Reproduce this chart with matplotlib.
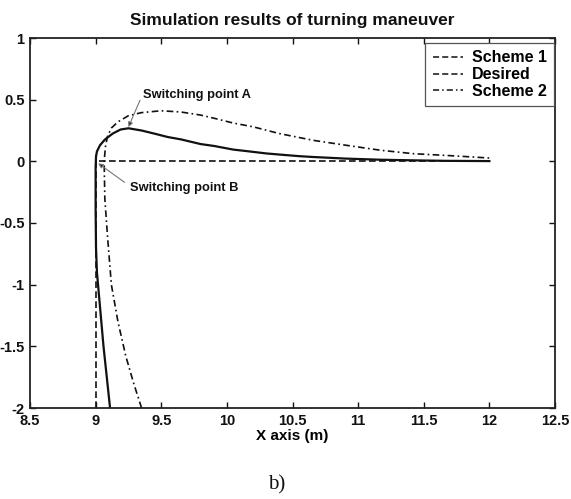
import matplotlib
matplotlib.use("Agg")
import matplotlib.pyplot as plt
from matplotlib.lines import Line2D

# trajectories (x in m, y in m)
scheme1_x = [9.11, 9.085, 9.06, 9.035, 9.01, 9.003, 9.0, 9.0, 9.003, 9.01, 9.033, 9.07,
             9.13, 9.19, 9.25, 9.35, 9.45, 9.55, 9.65, 9.8, 9.9, 10.05, 10.15, 10.3,
             10.4, 10.55, 10.66, 10.91, 11.17, 11.42, 11.67, 12.0]
scheme1_y = [-2.0, -1.75, -1.5, -1.2, -0.9, -0.7, -0.4, -0.05, 0.04, 0.08, 0.13, 0.176,
             0.225, 0.258, 0.268, 0.25, 0.224, 0.197, 0.178, 0.14, 0.125, 0.095, 0.083,
             0.064, 0.055, 0.042, 0.035, 0.022, 0.013, 0.008, 0.004, 0.002]

desired_x = [9.0, 9.0, 12.0]
desired_y = [-2.0, 0.0, 0.0]

scheme2_x = [9.35, 9.29, 9.23, 9.17, 9.12, 9.09, 9.07, 9.065, 9.075, 9.09, 9.12, 9.17,
             9.25, 9.35, 9.5, 9.65, 9.8, 9.9, 10.05, 10.2, 10.4, 10.66, 10.91, 11.17,
             11.42, 11.67, 12.0]
scheme2_y = [-2.0, -1.8, -1.58, -1.3, -1.0, -0.6, -0.3, 0.0, 0.12, 0.2, 0.27, 0.32,
             0.37, 0.395, 0.41, 0.4, 0.375, 0.35, 0.31, 0.28, 0.225, 0.17, 0.13, 0.09,
             0.062, 0.048, 0.027]

labels = ["Scheme 1", "Desired", "Scheme 2"]
xticks = [8.5, 9, 9.5, 10, 10.5, 11, 11.5, 12, 12.5]
yticks = [-2, -1.5, -1, -0.5, 0, 0.5, 1]
tick_text_x = ["8.5", "9", "9.5", "10", "10.5", "11", "11.5", "12", "12.5"]
tick_text_y = ["-2", "-1.5", "-1", "-0.5", "0", "0.5", "1"]

plt.rcParams["font.family"] = ["Liberation Sans", "DejaVu Sans"]
plt.rcParams["font.weight"] = "bold"
plt.rcParams["axes.labelweight"] = "bold"

W, H = 571, 499
fig = plt.figure(figsize=(W / 100, H / 100), dpi=100)
ax = fig.add_axes([30 / W, 1 - 408 / H, 525 / W, 370 / H])

ink = "#111111"
dash = (0, (4, 2))
dashdot = (0, (4, 2, 1, 2))

ax.plot(scheme1_x, scheme1_y, color=ink, lw=1.6, solid_joinstyle="round")
ax.plot(desired_x, desired_y, color=ink, lw=1.2, linestyle=dash)
ax.plot(scheme2_x, scheme2_y, color=ink, lw=1.2, linestyle=dashdot)

ax.set_xlim(8.5, 12.5)
ax.set_ylim(-2, 1)
ax.set_xticks(xticks)
ax.set_xticklabels(tick_text_x)
ax.set_yticks(yticks)
ax.set_yticklabels(tick_text_y)
ax.tick_params(direction="in", length=4, width=1, top=True, right=True,
               labelsize=10.5, pad=4, colors=ink)
for s in ax.spines.values():
    s.set_linewidth(1.3)
    s.set_color("#222222")

ax.set_xlabel("X axis (m)", fontsize=11, labelpad=1)

# legend shows both of the first two entries dashed, as in the source figure
handles = [Line2D([], [], color=ink, lw=1.1, linestyle=dash),
           Line2D([], [], color=ink, lw=1.1, linestyle=dash),
           Line2D([], [], color=ink, lw=1.1, linestyle=dashdot)]
leg = ax.legend(handles, labels, loc="upper right", bbox_to_anchor=(0.998, 1 - 5 / 370),
                borderaxespad=0, fancybox=False, framealpha=1, edgecolor="#555555",
                fontsize=11.5, handlelength=1.9, handletextpad=0.55, labelspacing=0.12,
                borderpad=0.45)
leg.get_frame().set_linewidth(0.9)

# switching point annotations
ax.annotate("", xy=(9.25, 0.278), xytext=(9.338, 0.495),
            arrowprops=dict(arrowstyle="-|>", color="#777777", lw=0.8,
                            mutation_scale=7, fc=ink, ec="#777777", shrinkA=0, shrinkB=0))
ax.text(9.363, 0.535, "Switching point A", fontsize=9.3, va="center", ha="left", color=ink)
ax.annotate("", xy=(9.02, -0.016), xytext=(9.22, -0.17),
            arrowprops=dict(arrowstyle="-|>", color="#777777", lw=0.8,
                            mutation_scale=7, fc=ink, ec="#777777", shrinkA=0, shrinkB=0))
ax.text(9.262, -0.219, "Switching point B", fontsize=9.3, va="center", ha="left", color=ink)

fig.text(292.5 / W, 1 - 20.7 / H, "Simulation results of turning maneuver",
         ha="center", va="center", fontsize=12.5, color=ink)
fig.text(277 / W, 1 - 485 / H, "b)", ha="center", va="center", fontsize=15,
         family=["Liberation Serif", "DejaVu Serif"], weight="normal", color=ink)

fig.savefig("out.png", dpi=100)
